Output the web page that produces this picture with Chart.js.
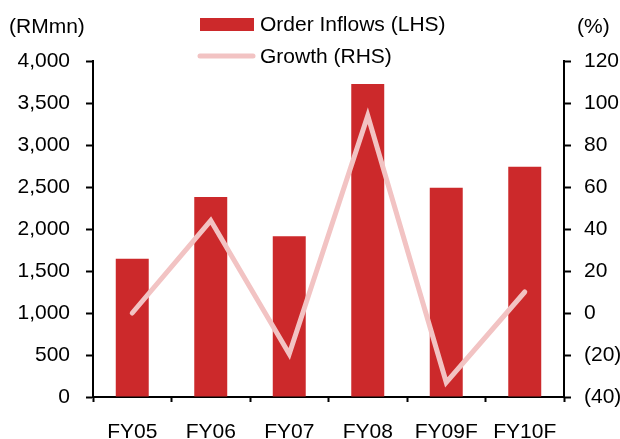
<!DOCTYPE html>
<html>
<head>
<meta charset="utf-8">
<script src="https://cdn.jsdelivr.net/npm/chart.js@4/dist/chart.umd.min.js"></script>
<style>
  html, body { margin: 0; padding: 0; background: #fff; }
  #wrap { width: 620px; height: 439px; }
</style>
</head>
<body>
<div id="wrap"><canvas id="c" width="620" height="439"></canvas></div>
<script>
// Order inflows (RMmn) and year-on-year growth (%)
const categories = ['FY05', 'FY06', 'FY07', 'FY08', 'FY09F', 'FY10F'];
const orderInflows = [1645, 2380, 1915, 3725, 2490, 2740];
const growthPct = [0, 44, -19.5, 94, -33, 10];
const leftTicks = [0, 500, 1000, 1500, 2000, 2500, 3000, 3500, 4000];
const rightTicks = [-40, -20, 0, 20, 40, 60, 80, 100, 120];

const BAR_COLOR = '#cc292b';
const LINE_COLOR = '#f2c3c3';
const FONT = '"Liberation Sans", Arial, sans-serif';
const FONT_SIZE = 21;

// Legend and unit captions drawn above the plot
const captions = {
  id: 'captions',
  afterDraw(chart) {
    const ctx = chart.ctx;
    ctx.save();
    ctx.font = FONT_SIZE + 'px ' + FONT;
    ctx.fillStyle = '#000';
    ctx.textBaseline = 'middle';
    ctx.textAlign = 'left';
    ctx.fillText('(RMmn)', 9, 27);
    ctx.fillText('(%)', 577, 27);

    const ds = chart.data.datasets;
    ctx.fillStyle = ds[0].backgroundColor;
    ctx.fillRect(200, 18, 54, 13);
    ctx.fillStyle = '#000';
    ctx.fillText(ds[0].label, 260, 25);

    ctx.strokeStyle = ds[1].borderColor;
    ctx.lineWidth = 5;
    ctx.lineCap = 'round';
    ctx.beginPath();
    ctx.moveTo(200, 56);
    ctx.lineTo(253, 56);
    ctx.stroke();
    ctx.fillText(ds[1].label, 260, 57);
    ctx.restore();
  }
};

new Chart(document.getElementById('c'), {
  data: {
    labels: categories,
    datasets: [
      {
        type: 'bar',
        label: 'Order Inflows (LHS)',
        data: orderInflows,
        backgroundColor: BAR_COLOR,
        yAxisID: 'y',
        barPercentage: 0.42,
        categoryPercentage: 1,
        order: 2
      },
      {
        type: 'line',
        label: 'Growth (RHS)',
        data: growthPct,
        borderColor: LINE_COLOR,
        backgroundColor: LINE_COLOR,
        borderWidth: 5,
        borderCapStyle: 'round',
        borderJoinStyle: 'miter',
        pointRadius: 0,
        tension: 0,
        yAxisID: 'y1',
        order: 1
      }
    ]
  },
  options: {
    responsive: false,
    animation: false,
    layout: { padding: { top: 61, left: 0, right: 0, bottom: 0 } },
    plugins: {
      legend: { display: false },
      tooltip: { enabled: false }
    },
    scales: {
      x: {
        offset: true,
        grid: { display: true, drawOnChartArea: false, drawTicks: true, tickLength: 5, tickWidth: 2, tickColor: '#000', offset: true },
        border: { display: true, color: '#000', width: 2 },
        ticks: { color: '#000', font: { family: FONT, size: FONT_SIZE }, padding: 18, maxRotation: 0 },
        afterFit(s) { s.height = 42; }
      },
      y: {
        position: 'left',
        min: 0, max: 4000,
        afterBuildTicks(s) { s.ticks = leftTicks.map(v => ({ value: v })); },
        grid: { drawOnChartArea: false, drawTicks: true, tickLength: 7, tickWidth: 2, tickColor: '#000' },
        border: { display: true, color: '#000', width: 2 },
        ticks: {
          color: '#000', font: { family: FONT, size: FONT_SIZE }, padding: 16,
          callback: v => v.toLocaleString('en-US')
        },
        afterFit(s) { s.width = 93; }
      },
      y1: {
        position: 'right',
        min: -40, max: 120,
        afterBuildTicks(s) { s.ticks = rightTicks.map(v => ({ value: v })); },
        grid: { drawOnChartArea: false, drawTicks: true, tickLength: 7, tickWidth: 2, tickColor: '#000' },
        border: { display: true, color: '#000', width: 2 },
        ticks: {
          color: '#000', font: { family: FONT, size: FONT_SIZE }, padding: 13,
          callback: v => v < 0 ? '(' + Math.abs(v) + ')' : String(v)
        },
        afterFit(s) { s.width = 56; }
      }
    }
  },
  plugins: [captions]
});
</script>
</body>
</html>
